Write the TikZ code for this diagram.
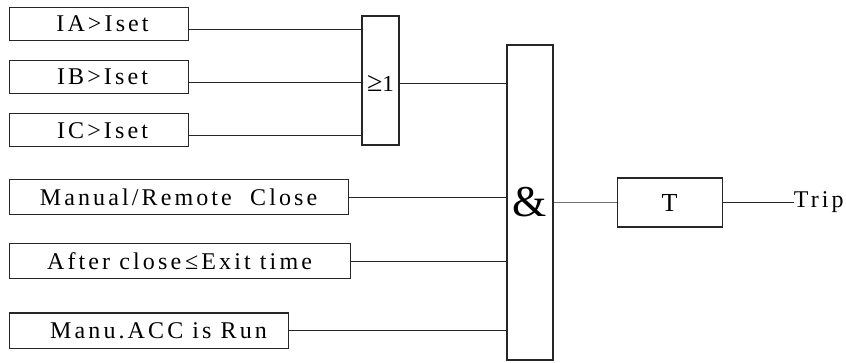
\documentclass[tikz,border=0pt]{standalone}
\usepackage{fontspec}
\setmainfont{Liberation Serif}
\newfontfamily\wide[LetterSpace=13]{Liberation Serif}
\usetikzlibrary{positioning}

\begin{document}
\begin{tikzpicture}[
    x=1pt, y=-1pt,
    node distance=19pt,
    inbox/.style={rectangle, draw=black!85, line width=1.1pt, inner sep=0pt, minimum height=33pt, font=\wide\fontsize{24}{26}\selectfont},
    gate/.style={rectangle, draw=black!85, line width=1.1pt, inner sep=0pt},
    wire/.style={draw=black!85, line width=0.8pt}
]
    \useasboundingbox (0,0) rectangle (846,363);

    % current inputs
    \node[inbox, minimum width=179pt, anchor=north west] (ia) at (8.5,7) {\hspace*{8pt}IA>Iset};
    \node[inbox, minimum width=179pt, below=of ia] (ib) {\hspace*{8pt}IB>Iset};
    \node[inbox, minimum width=179pt, below=of ib] (ic) {\hspace*{8pt}IC>Iset};

    % other conditions
    \node[inbox, minimum width=339pt, minimum height=35pt, below right=32pt and 0pt of ic.south west] (man) {Manual/Remote\ \ Close};
    \node[inbox, minimum width=341pt, minimum height=35pt, below right=28pt and 0pt of man.south west] (aft) {After close\,≤Exit time};
    \node[inbox, minimum width=279pt, minimum height=35pt, below right=33pt and 0pt of aft.south west] (acc) {\hspace*{20pt}Manu.ACC is Run};

    % gates
    \node[gate, minimum width=37pt, minimum height=129pt] (or) at (380.5,80.5) {};
    \node[inner sep=0pt] (orlbl) at (380.5,83) {{\fontsize{28}{28}\selectfont ≥}{\fontsize{23}{24}\selectfont 1}};
    \node[gate, minimum width=46pt, minimum height=315pt, font=\fontsize{44}{46}\selectfont] (and) at (530,202.5) {\&};
    \node[gate, minimum width=105pt, minimum height=49pt, right=63pt of and, font=\fontsize{26}{28}\selectfont] (tim) {T};
    \node[inner sep=0pt, right=71pt of tim, font=\wide\fontsize{24}{26}\selectfont] (trip) {Trip};

    % wires
    \draw[wire] ([yshift=-5.5pt]ia.east) -- ([yshift=-5.5pt]ia.east -| or.west);
    \draw[wire] ([yshift=-5pt]ib.east) -- ([yshift=-5pt]ib.east -| or.west);
    \draw[wire, line width=1.1pt] ([yshift=-5.5pt]ic.east) -- ([yshift=-5.5pt]ic.east -| or.west);
    \draw[wire] ([yshift=-3pt]or.east) -- ([yshift=-3pt]or.east -| and.west);
    \draw[wire] (man.east) -- (man.east -| and.west);
    \draw[wire] (aft.east) -- (aft.east -| and.west);
    \draw[wire] (acc.east) -- (acc.east -| and.west);
    \draw[wire, draw=black!55, line width=0.6pt] (tim.west -| and.east) -- (tim.west);
    \draw[wire] (tim.east) -- (trip.west);
\end{tikzpicture}
\end{document}
